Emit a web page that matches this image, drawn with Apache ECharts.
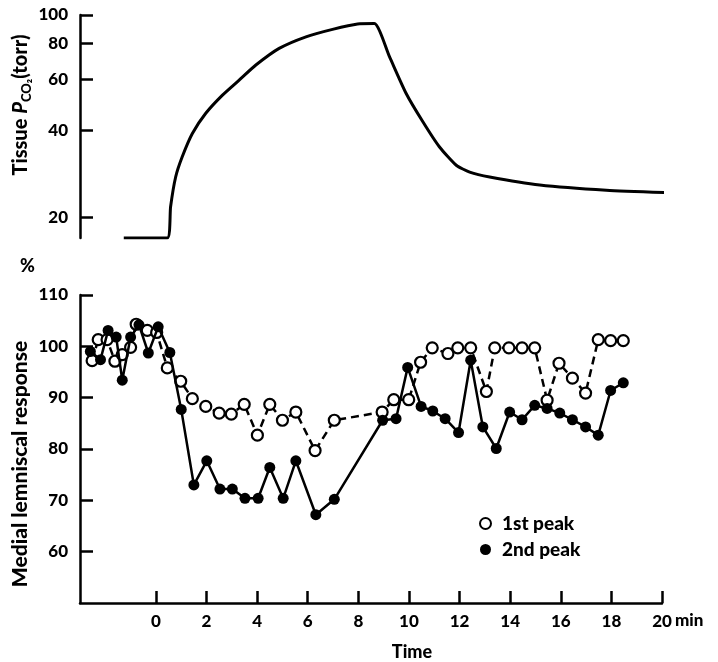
<!DOCTYPE html>
<html>
<head>
<meta charset="utf-8">
<script src="https://cdn.jsdelivr.net/npm/echarts@6/dist/echarts.min.js"></script>
<style>html,body{margin:0;padding:0;background:#fff;}#c{width:718px;height:662px;}</style>
</head>
<body>
<div id="c"></div>
<script>
// Top panel: tissue PCO2 (torr) vs time (min)
const pco2Time = [-1.27, 0.45, 0.58, 0.78, 1.04, 1.44, 1.97, 2.63, 3.29, 3.95, 4.87, 5.93, 6.98, 7.97, 8.63, 9.23, 9.89, 10.55, 11.2, 11.87, 12.4, 13.19, 15.17, 17.8, 20.12];
const pco2Torr = [17, 17, 21.8, 27.6, 32.4, 39.0, 45.8, 52.9, 59.6, 67.2, 76.7, 84.1, 89.2, 93.1, 93.4, 71.8, 53.6, 42.8, 35.1, 30.3, 28.7, 27.6, 25.9, 24.85, 24.4];
const pco2Ticks = [20, 40, 60, 80, 100];

// Bottom panel: medial lemniscal response (%)
const peak1Time = [-2.52, -2.28, -1.93, -1.62, -1.33, -1.0, -0.78, -0.34, 0.03, 0.45, 0.98, 1.44, 1.97, 2.50, 2.98, 3.49, 4.01, 4.50, 5.0, 5.53, 6.29, 7.05, 8.94, 9.40, 9.99, 10.46, 10.92, 11.54, 11.93, 12.44, 13.06, 13.39, 13.95, 14.47, 14.97, 15.46, 15.93, 16.46, 16.98, 17.48, 17.97, 18.47];
const peak1Resp = [97.2, 101.3, 101.3, 97.1, 98.4, 99.8, 104.3, 103.1, 102.7, 95.8, 93.2, 89.8, 88.3, 87.0, 86.8, 88.7, 82.7, 88.7, 85.6, 87.2, 79.7, 85.6, 87.2, 89.6, 89.6, 96.9, 99.7, 98.6, 99.7, 99.7, 91.2, 99.7, 99.7, 99.7, 99.7, 89.5, 96.7, 93.8, 90.9, 101.3, 101.1, 101.1];
const peak2Time = [-2.59, -2.19, -1.89, -1.57, -1.33, -1.0, -0.67, -0.30, 0.09, 0.55, 1.00, 1.50, 2.01, 2.53, 3.02, 3.52, 4.04, 4.50, 5.03, 5.53, 6.32, 7.05, 8.96, 9.49, 9.95, 10.48, 10.94, 11.43, 11.96, 12.44, 12.92, 13.45, 13.98, 14.47, 14.97, 15.46, 15.96, 16.46, 16.98, 17.48, 17.97, 18.47];
const peak2Resp = [99.0, 97.4, 103.1, 101.8, 93.4, 101.8, 104.2, 98.7, 103.8, 98.8, 87.7, 73.0, 77.7, 72.2, 72.2, 70.4, 70.4, 76.4, 70.4, 77.7, 67.2, 70.2, 85.6, 85.9, 95.9, 88.3, 87.4, 85.9, 83.2, 97.3, 84.3, 80.1, 87.2, 85.7, 88.5, 87.9, 87.0, 85.7, 84.3, 82.7, 91.4, 92.9];
const timeTicks = [0, 2, 4, 6, 8, 10, 12, 14, 16, 18, 20];
const respTicks = [60, 70, 80, 90, 100, 110];

const FONT = 'Lato';
const W = 900;
const INK = '#000';
const zip = (a, b) => a.map((v, i) => [v, b[i]]);

const chart = echarts.init(document.getElementById('c'), null, {renderer: 'canvas'});
const lab = {color: INK, fontFamily: FONT, fontWeight: W, fontSize: 17};
const big = {color: INK, fontFamily: FONT, fontWeight: W, fontSize: 19};

chart.setOption({
  animation: false,
  backgroundColor: '#fff',
  grid: [
    {left: 80, right: 56, top: 15, bottom: 424},
    {left: 80, right: 56, top: 295, bottom: 57}
  ],
  xAxis: [
    {gridIndex: 0, type: 'value', min: -3, max: 20, show: false},
    {
      gridIndex: 1, type: 'value', min: -3, max: 20,
      axisLine: {onZero: false, lineStyle: {color: INK, width: 2.5}},
      axisTick: {inside: true, length: 12, lineStyle: {color: INK, width: 2.5}, customValues: timeTicks},
      axisLabel: Object.assign({margin: 10, customValues: timeTicks}, lab),
      splitLine: {show: false},
      name: 'Time', nameLocation: 'middle', nameGap: 40,
      nameTextStyle: Object.assign({padding: [0, 0, 0, 82]}, lab, {fontSize: 18})
    }
  ],
  yAxis: [
    {
      gridIndex: 0, type: 'value', min: Math.log10(17), max: 2,
      axisLine: {show: true, onZero: false, lineStyle: {color: INK, width: 2.5}},
      axisTick: {show: true, inside: true, length: 13, lineStyle: {color: INK, width: 2.5}, customValues: pco2Ticks.map(v => Math.log10(v))},
      axisLabel: Object.assign({margin: 12, customValues: pco2Ticks.map(v => Math.log10(v)), formatter: v => String(Math.round(Math.pow(10, v)))}, lab),
      splitLine: {show: false}
    },
    {
      gridIndex: 1, type: 'value', min: 50, max: 110, interval: 10,
      axisLine: {show: true, onZero: false, lineStyle: {color: INK, width: 2.5}},
      axisTick: {show: true, inside: true, length: 13, lineStyle: {color: INK, width: 2.5}, customValues: respTicks},
      axisLabel: Object.assign({margin: 12, customValues: respTicks}, lab),
      splitLine: {show: false}
    }
  ],
  legend: {
    orient: 'vertical', left: 474, top: 509, itemGap: 7,
    icon: 'circle', itemWidth: 11, itemHeight: 11,
    textStyle: Object.assign({padding: [0, 0, 0, 6]}, big),
    data: ['1st peak', '2nd peak']
  },
  graphic: [
    {type: 'text', x: 21, y: 105, rotation: Math.PI / 2,
      style: {text: 'Tissue {i|P}{s|CO₂}(torr)', align: 'center', verticalAlign: 'middle', fill: INK, font: W + ' 20px ' + FONT,
        rich: {
          i: {fontFamily: FONT, fontStyle: 'italic', fontWeight: W, fontSize: 20, fill: INK},
          s: {fontFamily: FONT, fontWeight: W, fontSize: 13, fill: INK, padding: [12, 0, 0, 0]}
        }}},
    {type: 'text', x: 20, y: 464, rotation: Math.PI / 2,
      style: {text: 'Medial lemniscal response', align: 'center', verticalAlign: 'middle', fill: INK, font: W + ' 21px ' + FONT}},
    {type: 'text', left: 20, top: 257, style: {text: '%', fill: INK, font: W + ' 18px ' + FONT}},
    {type: 'text', left: 675, top: 612, style: {text: 'min', fill: INK, font: W + ' 17px ' + FONT}}
  ],
  series: [
    {
      type: 'line', xAxisIndex: 0, yAxisIndex: 0,
      data: zip(pco2Time, pco2Torr.map(v => Math.log10(v))),
      showSymbol: false, smooth: 0.2,
      lineStyle: {color: INK, width: 3}
    },
    {
      name: '1st peak', type: 'line', xAxisIndex: 1, yAxisIndex: 1,
      data: zip(peak1Time, peak1Resp),
      symbol: 'circle', symbolSize: 11, z: 3,
      lineStyle: {color: INK, width: 2.5, type: [8, 5]},
      itemStyle: {color: '#fff', borderColor: INK, borderWidth: 2.2}
    },
    {
      name: '2nd peak', type: 'line', xAxisIndex: 1, yAxisIndex: 1,
      data: zip(peak2Time, peak2Resp),
      symbol: 'circle', symbolSize: 11, z: 4,
      lineStyle: {color: INK, width: 2.5},
      itemStyle: {color: INK, borderColor: INK, borderWidth: 0}
    }
  ]
});
</script>
</body>
</html>
